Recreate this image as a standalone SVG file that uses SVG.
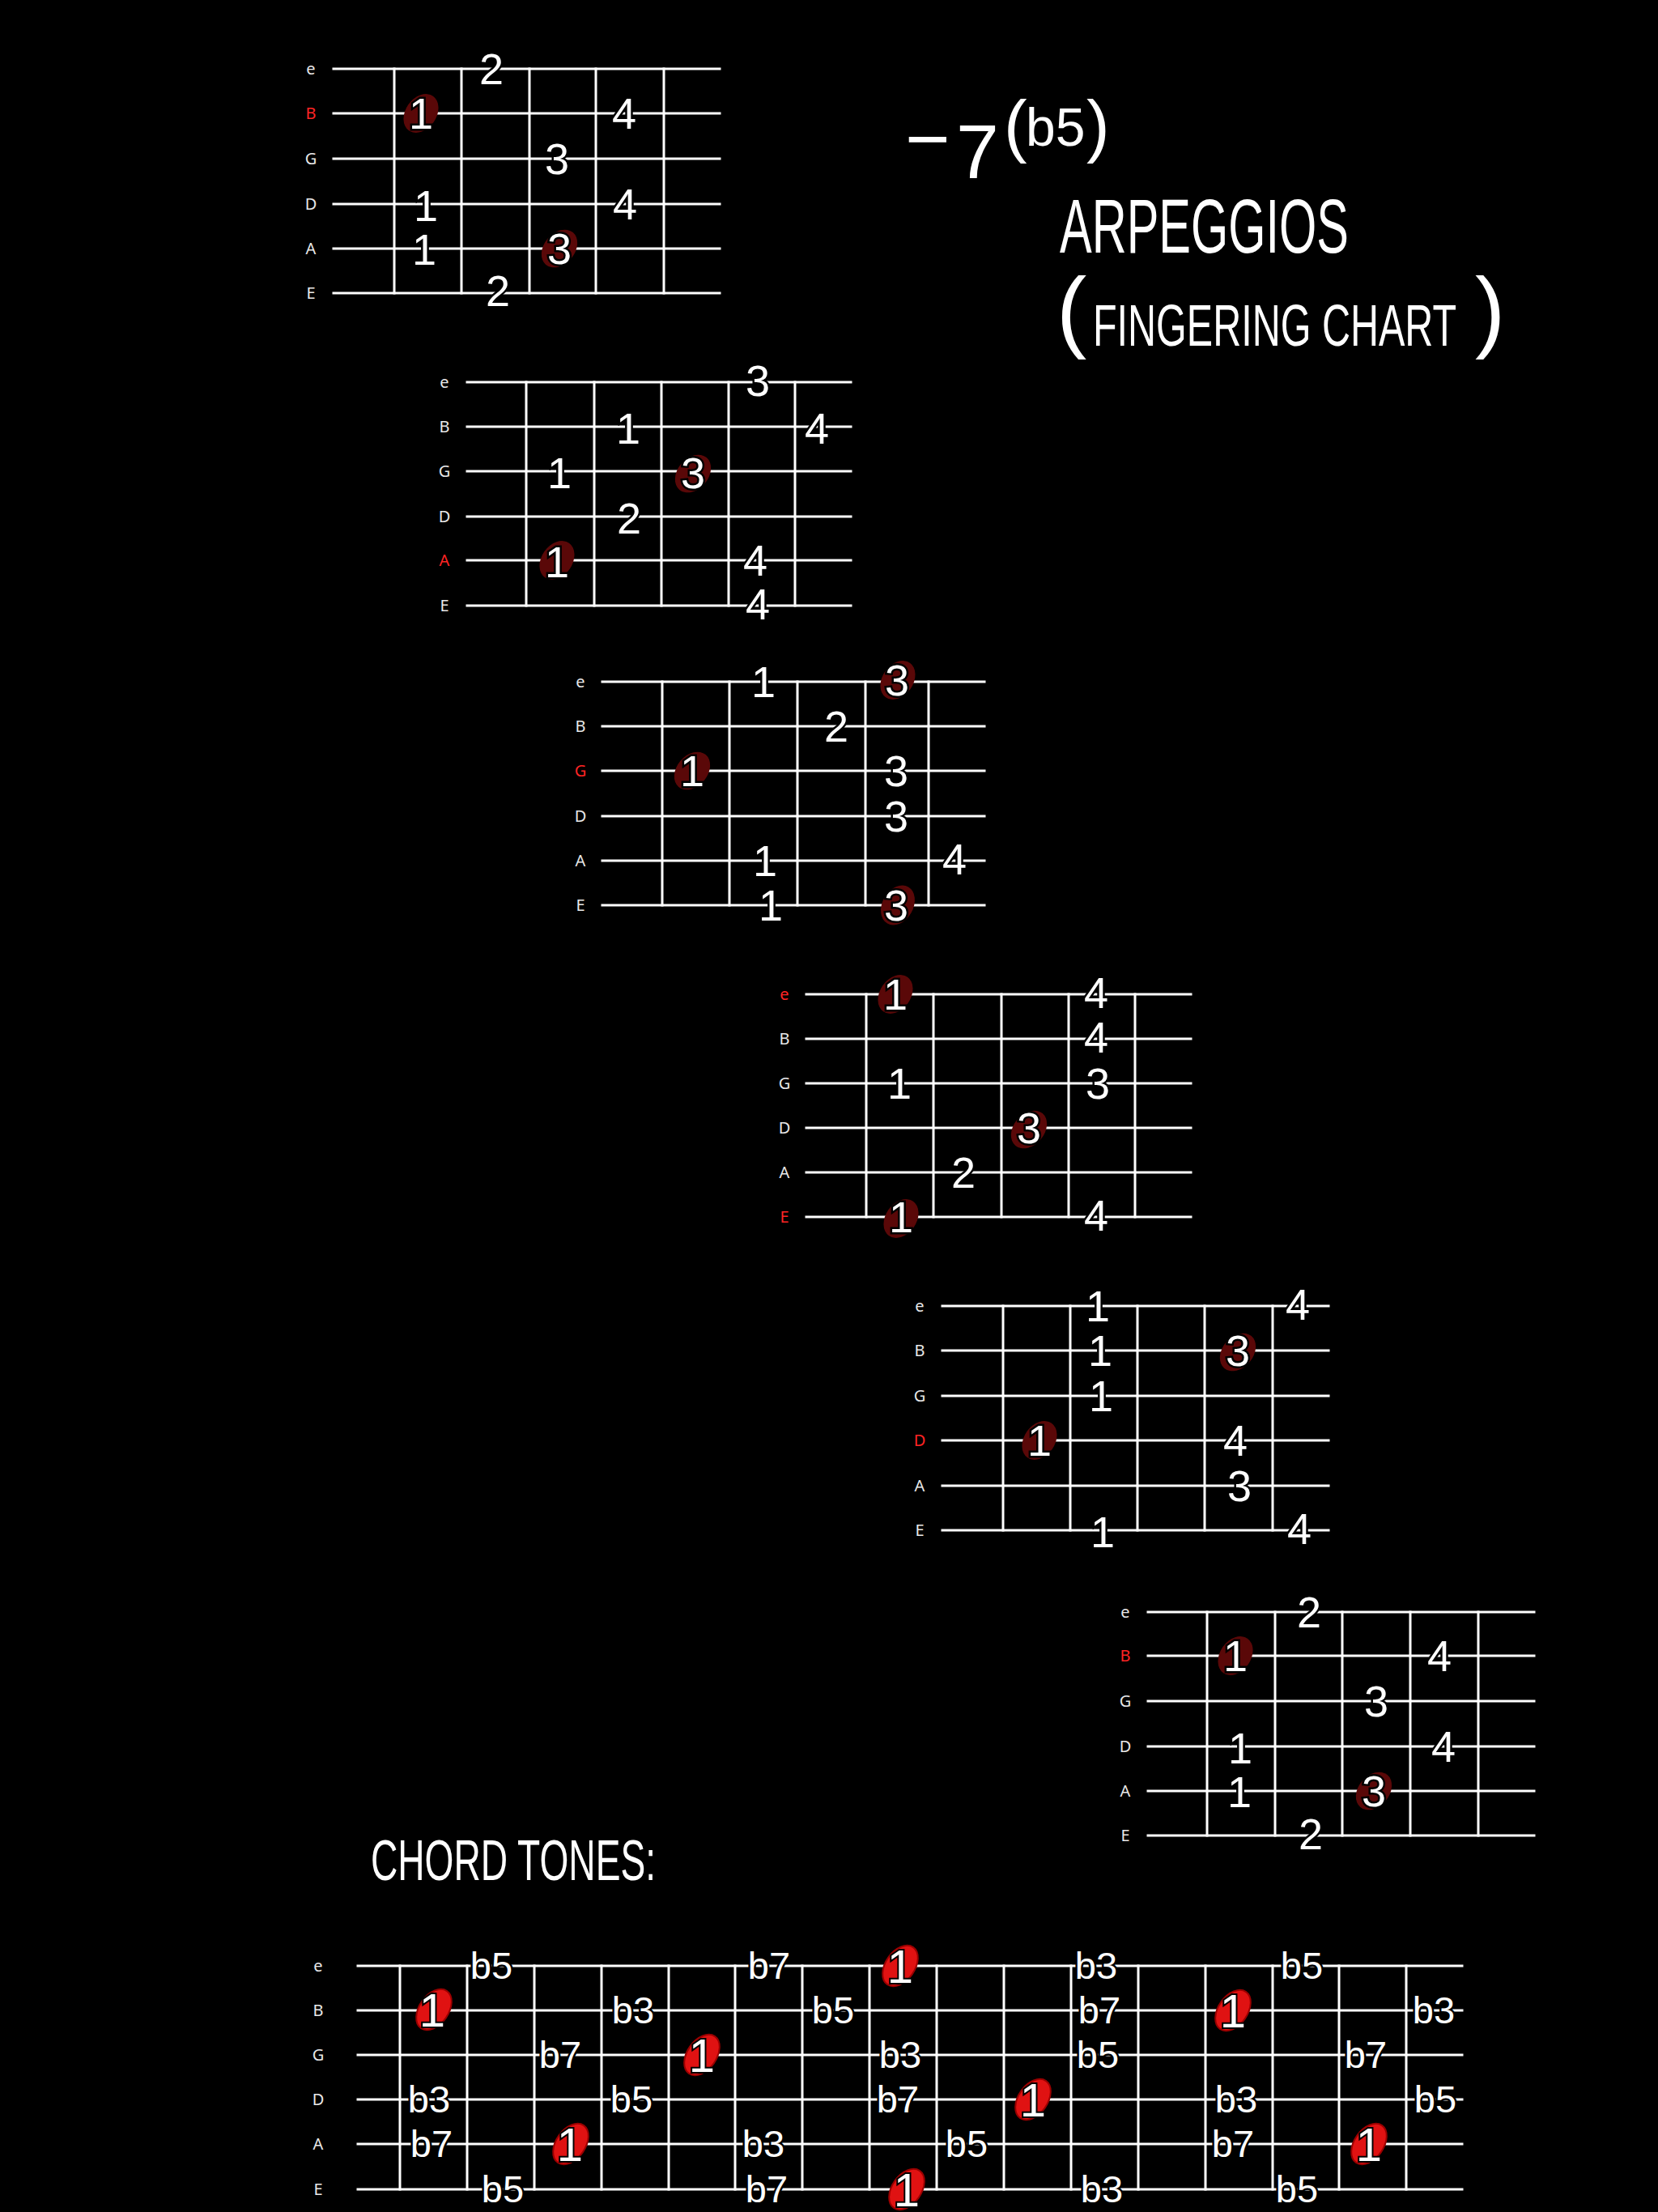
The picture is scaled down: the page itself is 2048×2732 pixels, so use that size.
<svg xmlns="http://www.w3.org/2000/svg" width="2048" height="2732" viewBox="0 0 2048 2732">
<style>
.ln{stroke:#fff;stroke-width:3;stroke-linecap:square;fill:none}
.lbl{font-family:"Noto Sans","DejaVu Sans",sans-serif;font-size:20px;fill:#e8e8e8;text-anchor:middle}
.red{fill:#ff2424}
.fn{font-family:"Liberation Sans",Arial,sans-serif;font-size:54px;fill:#fff;text-anchor:middle;stroke:#000;stroke-width:5px;paint-order:stroke}
.ct{font-family:"Liberation Sans",Arial,sans-serif;font-size:47px;fill:#fff;text-anchor:middle;stroke:#000;stroke-width:5px;paint-order:stroke}
.one{font-size:58px;stroke-width:4px}
.dot{fill:#5a0808}
.rdot{fill:#e01212;stroke:#9a0000;stroke-width:2}
.hand{font-family:"Liberation Sans",Arial,sans-serif;fill:#fff}
</style>
<rect width="2048" height="2732" fill="#000"/>

<g id="title">
<text class="hand" x="1118" y="204" font-size="95">−</text>
<text class="hand" x="1181" y="220" font-size="95">7</text>
<text class="hand" x="1240" y="184" font-size="86">(</text>
<text class="hand" x="1267" y="180" font-size="66">b5</text>
<text class="hand" x="1342" y="184" font-size="86">)</text>
<text class="hand" x="1309" y="312" font-size="95" textLength="357" lengthAdjust="spacingAndGlyphs">ARPEGGIOS</text>
<text class="hand" x="1305" y="421" font-size="112">(</text>
<text class="hand" transform="translate(1350 427) scale(1 1.48)" font-size="48.5">FINGERING CHART</text>
<text class="hand" x="1822" y="421" font-size="112">)</text>
</g>

<!-- Diagram 1 -->
<g id="diagram1">
<g class="ln">
<line x1="412" y1="85" x2="889" y2="85"/><line x1="412" y1="140" x2="889" y2="140"/><line x1="412" y1="196" x2="889" y2="196"/><line x1="412" y1="252" x2="889" y2="252"/><line x1="412" y1="307" x2="889" y2="307"/><line x1="412" y1="362" x2="889" y2="362"/>
<line x1="487" y1="85" x2="487" y2="362"/><line x1="570" y1="85" x2="570" y2="362"/><line x1="654" y1="85" x2="654" y2="362"/><line x1="736" y1="85" x2="736" y2="362"/><line x1="820" y1="85" x2="820" y2="362"/>
</g>
<text class="lbl" x="384" y="92">e</text><text class="lbl red" x="384" y="147">B</text><text class="lbl" x="384" y="203">G</text><text class="lbl" x="384" y="259">D</text><text class="lbl" x="384" y="314">A</text><text class="lbl" x="384" y="369">E</text>
<ellipse class="dot" cx="520" cy="140" rx="19" ry="26" transform="rotate(35 520 140)"/>
<ellipse class="dot" cx="691" cy="307" rx="19" ry="26" transform="rotate(40 691 307)"/>
<text class="fn" x="607" y="104">2</text>
<text class="fn" x="520" y="159">1</text><text class="fn" x="771" y="159">4</text>
<text class="fn" x="688" y="215">3</text>
<text class="fn" x="526" y="273">1</text><text class="fn" x="772" y="271">4</text>
<text class="fn" x="524" y="327">1</text><text class="fn" x="691" y="326">3</text>
<text class="fn" x="615" y="378">2</text>
</g>

<!-- Diagram 2 -->
<g id="diagram2">
<g class="ln">
<line x1="577" y1="472" x2="1051" y2="472"/><line x1="577" y1="527" x2="1051" y2="527"/><line x1="577" y1="582" x2="1051" y2="582"/><line x1="577" y1="638" x2="1051" y2="638"/><line x1="577" y1="692" x2="1051" y2="692"/><line x1="577" y1="748" x2="1051" y2="748"/>
<line x1="650" y1="472" x2="650" y2="748"/><line x1="734" y1="472" x2="734" y2="748"/><line x1="817" y1="472" x2="817" y2="748"/><line x1="900" y1="472" x2="900" y2="748"/><line x1="982" y1="472" x2="982" y2="748"/>
</g>
<text class="lbl" x="549" y="479">e</text><text class="lbl" x="549" y="534">B</text><text class="lbl" x="549" y="589">G</text><text class="lbl" x="549" y="645">D</text><text class="lbl red" x="549" y="699">A</text><text class="lbl" x="549" y="755">E</text>
<ellipse class="dot" cx="856" cy="585" rx="19" ry="26" transform="rotate(40 856 585)"/>
<ellipse class="dot" cx="688" cy="692" rx="19" ry="26" transform="rotate(35 688 692)"/>
<text class="fn" x="936" y="489">3</text>
<text class="fn" x="776" y="548">1</text><text class="fn" x="1009" y="548">4</text>
<text class="fn" x="691" y="603">1</text><text class="fn" x="856" y="603">3</text>
<text class="fn" x="777" y="659">2</text>
<text class="fn" x="688" y="713">1</text><text class="fn" x="933" y="711">4</text>
<text class="fn" x="936" y="765">4</text>
</g>

<!-- Diagram 3 -->
<g id="diagram3">
<g class="ln">
<line x1="744" y1="842" x2="1216" y2="842"/><line x1="744" y1="897" x2="1216" y2="897"/><line x1="744" y1="952" x2="1216" y2="952"/><line x1="744" y1="1008" x2="1216" y2="1008"/><line x1="744" y1="1063" x2="1216" y2="1063"/><line x1="744" y1="1118" x2="1216" y2="1118"/>
<line x1="818" y1="842" x2="818" y2="1118"/><line x1="901" y1="842" x2="901" y2="1118"/><line x1="985" y1="842" x2="985" y2="1118"/><line x1="1069" y1="842" x2="1069" y2="1118"/><line x1="1147" y1="842" x2="1147" y2="1118"/>
</g>
<text class="lbl" x="717" y="849">e</text><text class="lbl" x="717" y="904">B</text><text class="lbl red" x="717" y="959">G</text><text class="lbl" x="717" y="1015">D</text><text class="lbl" x="717" y="1070">A</text><text class="lbl" x="717" y="1125">E</text>
<ellipse class="dot" cx="1109" cy="840" rx="19" ry="26" transform="rotate(35 1109 840)"/>
<ellipse class="dot" cx="855" cy="952" rx="19" ry="26" transform="rotate(40 855 952)"/>
<ellipse class="dot" cx="1109" cy="1118" rx="19" ry="26" transform="rotate(30 1109 1118)"/>
<text class="fn" x="943" y="861">1</text><text class="fn" x="1108" y="859">3</text>
<text class="fn" x="1033" y="916">2</text>
<text class="fn" x="855" y="971">1</text><text class="fn" x="1107" y="971">3</text>
<text class="fn" x="1107" y="1027">3</text>
<text class="fn" x="945" y="1082">1</text><text class="fn" x="1179" y="1080">4</text>
<text class="fn" x="952" y="1137">1</text><text class="fn" x="1107" y="1137">3</text>
</g>

<!-- Diagram 4 -->
<g id="diagram4">
<g class="ln">
<line x1="996" y1="1228" x2="1471" y2="1228"/><line x1="996" y1="1283" x2="1471" y2="1283"/><line x1="996" y1="1338" x2="1471" y2="1338"/><line x1="996" y1="1393" x2="1471" y2="1393"/><line x1="996" y1="1448" x2="1471" y2="1448"/><line x1="996" y1="1503" x2="1471" y2="1503"/>
<line x1="1070" y1="1228" x2="1070" y2="1503"/><line x1="1153" y1="1228" x2="1153" y2="1503"/><line x1="1237" y1="1228" x2="1237" y2="1503"/><line x1="1320" y1="1228" x2="1320" y2="1503"/><line x1="1402" y1="1228" x2="1402" y2="1503"/>
</g>
<text class="lbl red" x="969" y="1235">e</text><text class="lbl" x="969" y="1290">B</text><text class="lbl" x="969" y="1345">G</text><text class="lbl" x="969" y="1400">D</text><text class="lbl" x="969" y="1455">A</text><text class="lbl red" x="969" y="1510">E</text>
<ellipse class="dot" cx="1106" cy="1228" rx="19" ry="26" transform="rotate(35 1106 1228)"/>
<ellipse class="dot" cx="1271" cy="1395" rx="19" ry="26" transform="rotate(40 1271 1395)"/>
<ellipse class="dot" cx="1113" cy="1505" rx="19" ry="26" transform="rotate(35 1113 1505)"/>
<text class="fn" x="1106" y="1247">1</text><text class="fn" x="1354" y="1245">4</text>
<text class="fn" x="1354" y="1300">4</text>
<text class="fn" x="1111" y="1357">1</text><text class="fn" x="1356" y="1357">3</text>
<text class="fn" x="1271" y="1412">3</text>
<text class="fn" x="1190" y="1467">2</text>
<text class="fn" x="1113" y="1522">1</text><text class="fn" x="1354" y="1520">4</text>
</g>

<!-- Diagram 5 -->
<g id="diagram5">
<g class="ln">
<line x1="1164" y1="1613" x2="1641" y2="1613"/><line x1="1164" y1="1668" x2="1641" y2="1668"/><line x1="1164" y1="1724" x2="1641" y2="1724"/><line x1="1164" y1="1779" x2="1641" y2="1779"/><line x1="1164" y1="1835" x2="1641" y2="1835"/><line x1="1164" y1="1890" x2="1641" y2="1890"/>
<line x1="1239" y1="1613" x2="1239" y2="1890"/><line x1="1322" y1="1613" x2="1322" y2="1890"/><line x1="1405" y1="1613" x2="1405" y2="1890"/><line x1="1488" y1="1613" x2="1488" y2="1890"/><line x1="1572" y1="1613" x2="1572" y2="1890"/>
</g>
<text class="lbl" x="1136" y="1620">e</text><text class="lbl" x="1136" y="1675">B</text><text class="lbl" x="1136" y="1731">G</text><text class="lbl red" x="1136" y="1786">D</text><text class="lbl" x="1136" y="1842">A</text><text class="lbl" x="1136" y="1897">E</text>
<ellipse class="dot" cx="1529" cy="1670" rx="19" ry="26" transform="rotate(40 1529 1670)"/>
<ellipse class="dot" cx="1284" cy="1779" rx="19" ry="26" transform="rotate(35 1284 1779)"/>
<text class="fn" x="1356" y="1632">1</text><text class="fn" x="1603" y="1630">4</text>
<text class="fn" x="1359" y="1687">1</text><text class="fn" x="1529" y="1687">3</text>
<text class="fn" x="1360" y="1743">1</text>
<text class="fn" x="1284" y="1798">1</text><text class="fn" x="1526" y="1798">4</text>
<text class="fn" x="1531" y="1854">3</text>
<text class="fn" x="1362" y="1911">1</text><text class="fn" x="1605" y="1907">4</text>
</g>

<!-- Diagram 6 -->
<g id="diagram6">
<g class="ln">
<line x1="1418" y1="1991" x2="1895" y2="1991"/><line x1="1418" y1="2045" x2="1895" y2="2045"/><line x1="1418" y1="2101" x2="1895" y2="2101"/><line x1="1418" y1="2157" x2="1895" y2="2157"/><line x1="1418" y1="2212" x2="1895" y2="2212"/><line x1="1418" y1="2267" x2="1895" y2="2267"/>
<line x1="1491" y1="1991" x2="1491" y2="2267"/><line x1="1575" y1="1991" x2="1575" y2="2267"/><line x1="1658" y1="1991" x2="1658" y2="2267"/><line x1="1742" y1="1991" x2="1742" y2="2267"/><line x1="1826" y1="1991" x2="1826" y2="2267"/>
</g>
<text class="lbl" x="1390" y="1998">e</text><text class="lbl red" x="1390" y="2052">B</text><text class="lbl" x="1390" y="2108">G</text><text class="lbl" x="1390" y="2164">D</text><text class="lbl" x="1390" y="2219">A</text><text class="lbl" x="1390" y="2274">E</text>
<ellipse class="dot" cx="1526" cy="2045" rx="19" ry="26" transform="rotate(35 1526 2045)"/>
<ellipse class="dot" cx="1697" cy="2212" rx="19" ry="26" transform="rotate(40 1697 2212)"/>
<text class="fn" x="1617" y="2010">2</text>
<text class="fn" x="1526" y="2064">1</text><text class="fn" x="1778" y="2064">4</text>
<text class="fn" x="1700" y="2120">3</text>
<text class="fn" x="1532" y="2178">1</text><text class="fn" x="1783" y="2176">4</text>
<text class="fn" x="1531" y="2232">1</text><text class="fn" x="1697" y="2231">3</text>
<text class="fn" x="1619" y="2284">2</text>
</g>

<!-- Chord tones -->
<g id="chord-tones-title">
<text class="hand" x="458" y="2322" font-size="70" textLength="352" lengthAdjust="spacingAndGlyphs">CHORD TONES:</text>
</g>

<g id="chord-tones">
<g class="ln">
<line x1="442" y1="2428" x2="1806" y2="2428"/><line x1="442" y1="2483" x2="1806" y2="2483"/><line x1="442" y1="2538" x2="1806" y2="2538"/><line x1="442" y1="2593" x2="1806" y2="2593"/><line x1="442" y1="2648" x2="1806" y2="2648"/><line x1="442" y1="2704" x2="1806" y2="2704"/>
<line x1="494" y1="2428" x2="494" y2="2704"/><line x1="577" y1="2428" x2="577" y2="2704"/><line x1="660" y1="2428" x2="660" y2="2704"/><line x1="743" y1="2428" x2="743" y2="2704"/><line x1="826" y1="2428" x2="826" y2="2704"/><line x1="908" y1="2428" x2="908" y2="2704"/><line x1="991" y1="2428" x2="991" y2="2704"/><line x1="1074" y1="2428" x2="1074" y2="2704"/><line x1="1157" y1="2428" x2="1157" y2="2704"/><line x1="1240" y1="2428" x2="1240" y2="2704"/><line x1="1323" y1="2428" x2="1323" y2="2704"/><line x1="1406" y1="2428" x2="1406" y2="2704"/><line x1="1489" y1="2428" x2="1489" y2="2704"/><line x1="1572" y1="2428" x2="1572" y2="2704"/><line x1="1654" y1="2428" x2="1654" y2="2704"/><line x1="1737" y1="2428" x2="1737" y2="2704"/>
</g>
<text class="lbl" x="393" y="2435">e</text><text class="lbl" x="393" y="2490">B</text><text class="lbl" x="393" y="2545">G</text><text class="lbl" x="393" y="2600">D</text><text class="lbl" x="393" y="2655">A</text><text class="lbl" x="393" y="2711">E</text>
<g>
<ellipse class="rdot" cx="1112" cy="2428" rx="18" ry="28" transform="rotate(35 1112 2428)"/>
<ellipse class="rdot" cx="536" cy="2482" rx="18" ry="28" transform="rotate(35 536 2482)"/>
<ellipse class="rdot" cx="1523" cy="2483" rx="18" ry="28" transform="rotate(35 1523 2483)"/>
<ellipse class="rdot" cx="867" cy="2538" rx="18" ry="28" transform="rotate(35 867 2538)"/>
<ellipse class="rdot" cx="1276" cy="2593" rx="18" ry="28" transform="rotate(35 1276 2593)"/>
<ellipse class="rdot" cx="705" cy="2648" rx="18" ry="28" transform="rotate(35 705 2648)"/>
<ellipse class="rdot" cx="1691" cy="2648" rx="18" ry="28" transform="rotate(35 1691 2648)"/>
<ellipse class="rdot" cx="1120" cy="2704" rx="18" ry="28" transform="rotate(35 1120 2704)"/>
</g>
<text class="ct" x="607" y="2444">b5</text><text class="ct" x="950" y="2444">b7</text><text class="ct one" x="1112" y="2449">1</text><text class="ct" x="1354" y="2444">b3</text><text class="ct" x="1608" y="2444">b5</text>
<text class="ct one" x="534" y="2503">1</text><text class="ct" x="782" y="2499">b3</text><text class="ct" x="1029" y="2499">b5</text><text class="ct" x="1358" y="2499">b7</text><text class="ct one" x="1523" y="2504">1</text><text class="ct" x="1771" y="2499">b3</text>
<text class="ct" x="692" y="2554">b7</text><text class="ct one" x="867" y="2559">1</text><text class="ct" x="1112" y="2554">b3</text><text class="ct" x="1356" y="2554">b5</text><text class="ct" x="1687" y="2554">b7</text>
<text class="ct" x="530" y="2609">b3</text><text class="ct" x="780" y="2609">b5</text><text class="ct" x="1109" y="2609">b7</text><text class="ct one" x="1276" y="2614">1</text><text class="ct" x="1527" y="2609">b3</text><text class="ct" x="1773" y="2609">b5</text>
<text class="ct" x="533" y="2664">b7</text><text class="ct one" x="704" y="2669">1</text><text class="ct" x="943" y="2664">b3</text><text class="ct" x="1194" y="2664">b5</text><text class="ct" x="1523" y="2664">b7</text><text class="ct one" x="1691" y="2669">1</text>
<text class="ct" x="621" y="2720">b5</text><text class="ct" x="947" y="2720">b7</text><text class="ct one" x="1120" y="2725">1</text><text class="ct" x="1361" y="2720">b3</text><text class="ct" x="1602" y="2720">b5</text>
</g>
</svg>
